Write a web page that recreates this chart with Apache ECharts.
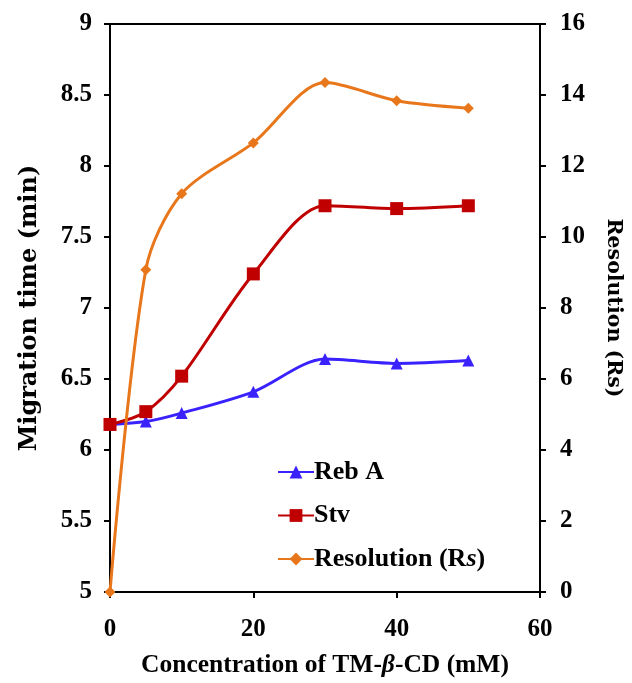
<!DOCTYPE html>
<html>
<head>
<meta charset="utf-8">
<script src="https://cdn.jsdelivr.net/npm/echarts@6/dist/echarts.min.js"></script>
<style>
  html, body { margin: 0; padding: 0; background: #fff; }
  #chart { width: 632px; height: 683px; }
</style>
</head>
<body>
<div id="chart"></div>
<script>
// concentration of TM-beta-CD (mM)
const conc = [0, 5, 10, 20, 30, 40, 50]
// migration time (min), left axis
const rebA = [6.18, 6.20, 6.26, 6.41, 6.64, 6.61, 6.63]
const stv = [6.18, 6.27, 6.52, 7.24, 7.72, 7.70, 7.72]
// resolution (Rs), right axis
const resolution = [0, 9.08, 11.22, 12.65, 14.35, 13.84, 13.63]

const leftTicks = [5, 9, 0.5]
const rightTicks = [0, 16, 2]
const xTicks = [0, 60, 20]

const serif = 'Liberation Serif'
const titleFont = 'DejaVu Serif'

const chart = echarts.init(document.getElementById('chart'))

const pairs = arr => conc.map((c, i) => [c, arr[i]])

const axisCommon = {
  axisLine: { show: true, lineStyle: { color: '#000', width: 2 } },
  axisTick: { show: true, inside: false, length: 6, lineStyle: { color: '#000', width: 2 } },
  splitLine: { show: false },
  axisLabel: { color: '#000', fontFamily: serif, fontWeight: 'bold', fontSize: 25 }
}

const option = {
  backgroundColor: '#fff',
  animation: false,
  grid: {
    left: 110,
    right: 89,
    top: 24,
    bottom: 90,
    show: true,
    borderColor: '#000',
    borderWidth: 2
  },
  legend: {
    orient: 'vertical',
    left: 272,
    top: 454,
    itemWidth: 36,
    itemHeight: 16,
    itemGap: 17.5,
    data: ['Reb A', 'Stv', 'Resolution (Rs)'],
    formatter: name => name === 'Resolution (Rs)' ? 'Resolution (R{i|s})' : name,
    textStyle: {
      color: '#000',
      fontFamily: serif,
      fontWeight: 'bold',
      fontSize: 26,
      padding: [0, 0, 0, -5],
      rich: {
        i: { fontFamily: serif, fontWeight: 'bold', fontStyle: 'italic', fontSize: 26, color: '#000' }
      }
    }
  },
  xAxis: {
    type: 'value',
    min: xTicks[0],
    max: xTicks[1],
    interval: xTicks[2],
    name: 'Concentration of TM-{i|β}-CD (mM)',
    nameLocation: 'middle',
    nameGap: 60,
    nameTextStyle: {
      color: '#000',
      fontFamily: serif,
      fontWeight: 'bold',
      fontSize: 25.5,
      rich: {
        i: { fontFamily: serif, fontWeight: 'bold', fontStyle: 'italic', fontSize: 25.5, color: '#000' }
      }
    },
    ...axisCommon,
    axisLabel: { ...axisCommon.axisLabel, margin: 25 }
  },
  yAxis: [
    {
      type: 'value',
      position: 'left',
      min: leftTicks[0],
      max: leftTicks[1],
      interval: leftTicks[2],
      name: 'Migration time (min)',
      nameLocation: 'middle',
      nameGap: 68,
      nameTextStyle: { color: '#000', fontFamily: titleFont, fontWeight: 'bold', fontSize: 24 },
      ...axisCommon,
      axisLabel: { ...axisCommon.axisLabel, margin: 18 }
    },
    {
      type: 'value',
      position: 'right',
      min: rightTicks[0],
      max: rightTicks[1],
      interval: rightTicks[2],
      name: 'Resolution (Rs)',
      nameLocation: 'middle',
      nameRotate: -90,
      nameGap: 63,
      nameTextStyle: { color: '#000', fontFamily: titleFont, fontWeight: 'bold', fontSize: 20.5 },
      ...axisCommon,
      axisLabel: { ...axisCommon.axisLabel, margin: 20 }
    }
  ],
  series: [
    {
      name: 'Reb A',
      type: 'line',
      yAxisIndex: 0,
      smooth: 0.3,
      data: pairs(rebA),
      symbol: 'triangle',
      symbolSize: 12,
      lineStyle: { color: '#3A22FF', width: 3 },
      itemStyle: { color: '#3A22FF' }
    },
    {
      name: 'Stv',
      type: 'line',
      yAxisIndex: 0,
      smooth: 0.3,
      data: pairs(stv),
      symbol: 'rect',
      symbolSize: 13,
      lineStyle: { color: '#C00000', width: 3 },
      itemStyle: { color: '#C00000' }
    },
    {
      name: 'Resolution (Rs)',
      type: 'line',
      yAxisIndex: 1,
      smooth: 0.3,
      data: pairs(resolution),
      symbol: 'diamond',
      symbolSize: 11,
      lineStyle: { color: '#E8761B', width: 3 },
      itemStyle: { color: '#E8761B' }
    }
  ]
}

chart.setOption(option)

window.addEventListener('resize', () => {
  if (chart) {
    chart.resize()
  }
})
</script>
</body>
</html>
